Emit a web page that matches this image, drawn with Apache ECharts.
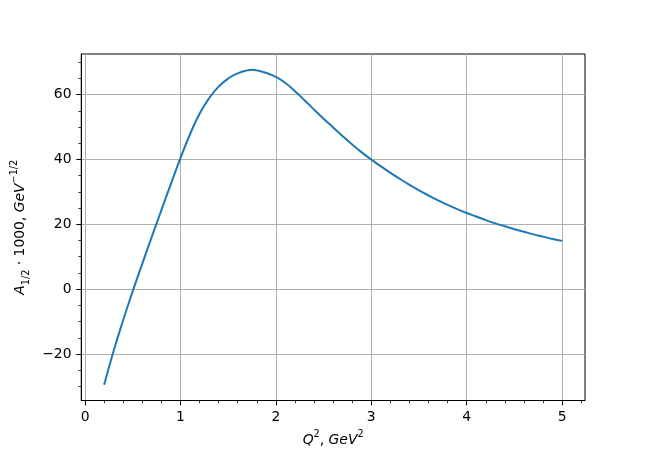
<!DOCTYPE html>
<html>
<head>
<meta charset="utf-8">
<script src="https://cdn.jsdelivr.net/npm/echarts@6/dist/echarts.min.js"></script>
<style>html,body{margin:0;padding:0;background:#fff;}#c{width:650px;height:450px;}</style>
</head>
<body>
<div id="c"></div>
<script>
// Q^2 values (GeV^2)
var Q2 = [0.2,0.3,0.4,0.5,0.6,0.7,0.8,0.9,1.0,1.1,1.2,1.3,1.4,1.5,1.6,1.7,1.75,1.8,1.9,2.0,
          2.1,2.2,2.3,2.4,2.5,2.6,2.7,2.8,2.9,3.0,3.1,3.2,3.3,3.4,3.5,3.6,3.7,3.8,3.9,4.0,
          4.1,4.2,4.3,4.4,4.5,4.6,4.7,4.8,4.9,5.0];
// A_{1/2} * 1000 values
var A12 = [-29.5,-19.0,-9.5,-0.6,7.9,16.2,24.4,32.5,40.4,47.8,54.1,58.9,62.5,65.0,66.6,67.5,67.7,67.5,66.7,65.5,
           63.6,61.1,58.3,55.4,52.6,49.9,47.2,44.6,42.2,40.0,37.9,35.9,34.0,32.2,30.5,28.9,27.4,26.0,24.7,23.5,
           22.4,21.3,20.3,19.4,18.5,17.7,16.9,16.2,15.5,14.9];

var xMajorTicks = [0,1,2,3,4,5];
var xMinorTicks = [0.2,0.4,0.6,0.8,1.2,1.4,1.6,1.8,2.2,2.4,2.6,2.8,3.2,3.4,3.6,3.8,4.2,4.4,4.6,4.8,5.2];
var yMajorTicks = [-20,0,20,40,60];
var yMinorTicks = [-30,-25,-15,-10,-5,5,10,15,25,30,35,45,50,55,65,70];

var X_MIN = -0.04, X_MAX = 5.24, Y_MIN = -34.36, Y_MAX = 72.56;

var FONT = 'DejaVu Sans';
var FS = 13.9;
function fmt(v){ return (v < 0 ? '\u2212' + Math.abs(v) : String(v)); }

var nameRich = {
  i:   {fontFamily: FONT, fontStyle: 'italic', fontSize: FS, color: '#000', lineHeight: 22, verticalAlign: 'middle'},
  n:   {fontFamily: FONT, fontSize: FS, color: '#000', lineHeight: 22, verticalAlign: 'middle'},
  sup: {fontFamily: FONT, fontSize: 9.7, color: '#000', lineHeight: 11, verticalAlign: 'top'},
  sub: {fontFamily: FONT, fontSize: 9.7, color: '#000', lineHeight: 13, verticalAlign: 'bottom'}
};

var data = Q2.map(function(q, i){ return [q, A12[i]]; });

var chart = echarts.init(document.getElementById('c'), null, {renderer: 'canvas'});
chart.setOption({
  animation: false,
  backgroundColor: '#fff',
  grid: {left: 81.25, right: 65, top: 54, bottom: 49.5, show: true, borderColor: '#000', borderWidth: 1,
         containLabel: false, outerBoundsMode: 'none'},
  xAxis: [
    {type: 'value', min: X_MIN, max: X_MAX, position: 'bottom',
     axisLine: {show: true, onZero: false, lineStyle: {color: '#000', width: 1}},
     axisTick: {show: true, inside: false, length: 4.9, customValues: xMajorTicks, lineStyle: {color: '#000', width: 1}},
     axisLabel: {show: true, customValues: xMajorTicks, margin: 9.7, formatter: fmt, color: '#000', fontFamily: FONT, fontSize: FS,
                 showMinLabel: true, showMaxLabel: true},
     splitLine: {show: true, lineStyle: {color: '#b0b0b0', width: 1}},
     name: '{i|Q}{sup|2}{n|, }{i|GeV}{sup|2}', nameLocation: 'middle', nameGap: 28,
     nameTextStyle: {rich: nameRich}},
    {type: 'value', min: X_MIN, max: X_MAX, position: 'bottom',
     axisLine: {show: false, onZero: false},
     axisTick: {show: true, inside: false, length: 2.8, customValues: xMinorTicks, lineStyle: {color: '#000', width: 0.8}},
     axisLabel: {show: false}, splitLine: {show: false}}
  ],
  yAxis: [
    {type: 'value', min: Y_MIN, max: Y_MAX, position: 'left',
     axisLine: {show: true, onZero: false, lineStyle: {color: '#000', width: 1}},
     axisTick: {show: true, inside: false, length: 4.9, customValues: yMajorTicks, lineStyle: {color: '#000', width: 1}},
     axisLabel: {show: true, customValues: yMajorTicks, margin: 9.7, formatter: fmt, color: '#000', fontFamily: FONT, fontSize: FS},
     splitLine: {show: true, lineStyle: {color: '#b0b0b0', width: 1}},
     name: '{i|A}{sub|1/2}{n| \u00b7 1000, }{i|GeV}{sup|\u22121/2}', nameLocation: 'middle', nameGap: 41, nameRotate: 90,
     nameTextStyle: {rich: nameRich}},
    {type: 'value', min: Y_MIN, max: Y_MAX, position: 'left',
     axisLine: {show: false, onZero: false},
     axisTick: {show: true, inside: false, length: 2.8, customValues: yMinorTicks, lineStyle: {color: '#000', width: 0.8}},
     axisLabel: {show: false}, splitLine: {show: false}}
  ],
  series: [{
    type: 'line', xAxisIndex: 0, yAxisIndex: 0, data: data,
    showSymbol: false, smooth: 0.5, clip: false,
    lineStyle: {color: '#1f77b4', width: 2}
  }]
});
</script>
</body>
</html>
